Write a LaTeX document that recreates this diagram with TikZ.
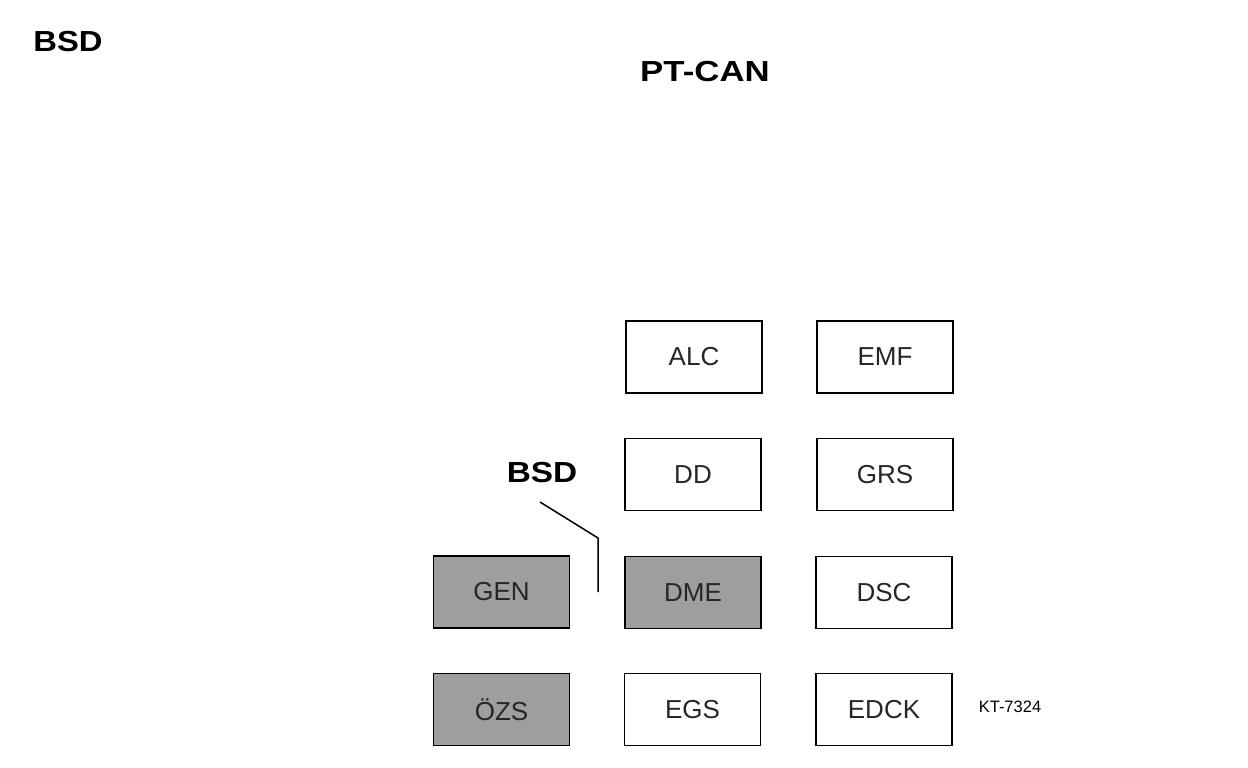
\documentclass[tikz,border=0pt]{standalone}
\usepackage{fontspec}
\setmainfont{Liberation Sans}
\begin{document}
\begin{tikzpicture}[x=1pt,y=-1pt,
  ecu/.style={draw=black, line width=1.8pt, minimum width=136pt, minimum height=72pt, inner sep=0pt,
    font=\fontsize{26}{28}\selectfont, text=black!85},
  ecugray/.style={ecu, fill=black!38},
  title/.style={font=\fontsize{29}{31}\selectfont\bfseries, inner sep=0pt},
  leader/.style={draw=black, line width=1.5pt}]
\useasboundingbox (0,0) rectangle (1248,768);
\node[title] (bsdtop) at (68,42) {\scalebox{1.13}[1]{BSD}};
\node[title] (ptcan) at (705,72) {\scalebox{1.2}[1]{PT-CAN}};
\node[title] (bsd) at (542,473) {\scalebox{1.15}[1]{BSD}};
\node[ecu] (alc) at (694,357) {ALC};
\node[ecu] (emf) at (885,357) {EMF};
\node[ecu] (dd) at (693,474.5) {DD};
\node[ecu] (grs) at (885,474.5) {GRS};
\node[ecugray] (gen) at (501.5,592) {GEN};
\node[ecugray] (dme) at (693,592.5) {DME};
\node[ecu] (dsc) at (884,592.5) {DSC};
\node[ecugray] (ozs) at (501.5,709.5) {ÖZS};
\node[ecu] (egs) at (692.5,709.5) {EGS};
\node[ecu] (edck) at (884,709.5) {EDCK};
\node[inner sep=0pt, font=\fontsize{16.5}{18}\selectfont] (kt) at (1010,707) {KT-7324};
\coordinate (l0) at (540,502);
\coordinate (l1) at (598,538);
\coordinate (l2) at (598,592);
\draw[leader] (l0) -- (l1) -- (l2);
\end{tikzpicture}
\end{document}
